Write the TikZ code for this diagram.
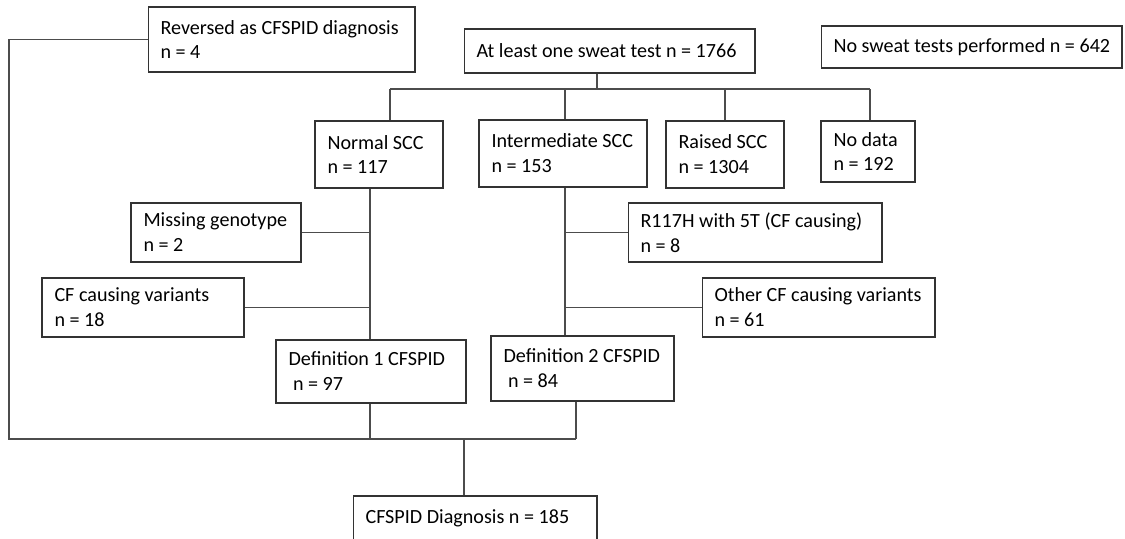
\documentclass[tikz,border=0pt]{standalone}
\usepackage{fontspec}
\setmainfont{Carlito}
\usepackage{tikz}

\begin{document}
\begin{tikzpicture}[
		x=0.02cm,
		y=-0.02cm,
		line width=0.6 pt
		]
		\tikzstyle{box}=[
			rectangle,
			draw=black!80,
			inner sep=0 pt
		]
		\tikzstyle{tag}=[
			anchor=west,
			align=left,
			inner xsep=0.25 cm,
			inner ysep=0 pt,
			font=\fontsize{11.45pt}{14.2pt}\selectfont
		]
		\tikzstyle{link}=[
			draw=black!70
		]
		\useasboundingbox (0,0) rectangle (1125,538);
		% Draw the top row of boxes.
			\node[box, minimum width=5.34 cm, minimum height=1.30 cm, label={[tag]west:{Reversed as CFSPID diagnosis\\n = 4}}] (rev) at (281.5,39.5) {};
			\node[box, minimum width=5.82 cm, minimum height=0.88 cm, label={[tag]west:{At least one sweat test n = 1766}}] (start) at (609.5,51) {};
			\node[box, minimum width=6.02 cm, minimum height=0.84 cm, label={[tag]west:{No sweat tests performed n = 642}}] (nosweat) at (971.5,47) {};
		% Draw the sweat chloride boxes.
			\node[box, minimum width=2.56 cm, minimum height=1.34 cm, label={[tag]west:{Normal SCC\\n = 117}}] (normal) at (379,154.5) {};
			\node[box, minimum width=3.36 cm, minimum height=1.34 cm, label={[tag]west:{Intermediate SCC\\n = 153}}] (inter) at (563,153.5) {};
			\node[box, minimum width=2.36 cm, minimum height=1.34 cm, label={[tag]west:{Raised SCC\\n = 1304}}] (raised) at (725,154.5) {};
			\node[box, minimum width=1.88 cm, minimum height=1.22 cm, label={[tag]west:{No data\\n = 192}}] (nodata) at (868,151.5) {};
		% Draw the genotype boxes.
			\node[box, minimum width=3.40 cm, minimum height=1.18 cm, label={[tag]west:{Missing genotype\\n = 2}}] (missing) at (216,232.5) {};
			\node[box, minimum width=4.04 cm, minimum height=1.18 cm, label={[tag]west:{CF causing variants\\n = 18}}] (cfvar) at (143,307.5) {};
			\node[box, minimum width=5.08 cm, minimum height=1.18 cm, label={[tag]west:{R117H with 5T (CF causing)\\n = 8}}] (r117) at (755,232.5) {};
			\node[box, minimum width=4.66 cm, minimum height=1.18 cm, label={[tag]west:{Other CF causing variants\\n = 61}}] (other) at (818.5,307.5) {};
		% Draw the definition boxes and the diagnosis box.
			\node[box, minimum width=3.80 cm, minimum height=1.26 cm, label={[tag]west:{Definition 1 CFSPID\\\mbox{} n = 97}}] (def1) at (371,371.5) {};
			\node[box, minimum width=3.66 cm, minimum height=1.30 cm, label={[tag]west:{Definition 2 CFSPID\\\mbox{} n = 84}}] (def2) at (582.5,368.5) {};
			\node[box, minimum width=4.88 cm, minimum height=0.88 cm, label={[tag]west:{CFSPID Diagnosis n = 185}}] (diag) at (475,518) {};
		% Junction points of the tree.
			\coordinate (split) at (597,89);
			\coordinate (lefttop) at (390,89);
			\coordinate (righttop) at (870,89);
			\coordinate (leftend) at (9,439);
			\coordinate (merge) at (464,439);
			\coordinate (trunk1) at (370,439);
			\coordinate (trunk2) at (565,336);
			\coordinate (trunk3) at (576,439);
		% Split the sweat test box into four groups.
			\draw[link] (start.south -| split) -- (split);
			\draw[link] (lefttop) -- (righttop);
			\draw[link] (lefttop) -- (normal.north -| lefttop);
			\draw[link] (trunk2 |- split) -- (inter.north -| trunk2);
			\draw[link] (raised.north |- split) -- (raised.north);
			\draw[link] (righttop) -- (nodata.north -| righttop);
		% Exclusions along both trunks.
			\draw[link] (normal.south -| trunk1) -- (def1.north -| trunk1);
			\draw[link] (missing.east) -- (missing.east -| trunk1);
			\draw[link] (cfvar.east) -- (cfvar.east -| trunk1);
			\draw[link] (inter.south -| trunk2) -- (def2.north -| trunk2);
			\draw[link] (r117.west) -- (r117.west -| trunk2);
			\draw[link] (other.west) -- (other.west -| trunk2);
		% Merge everything into the diagnosis box.
			\draw[link] (rev.west) -| (leftend) -- (trunk3);
			\draw[link] (def1.south -| trunk1) -- (trunk1);
			\draw[link] (def2.south -| trunk3) -- (trunk3);
			\draw[link] (merge) -- (diag.north -| merge);
	\end{tikzpicture}
\end{document}
